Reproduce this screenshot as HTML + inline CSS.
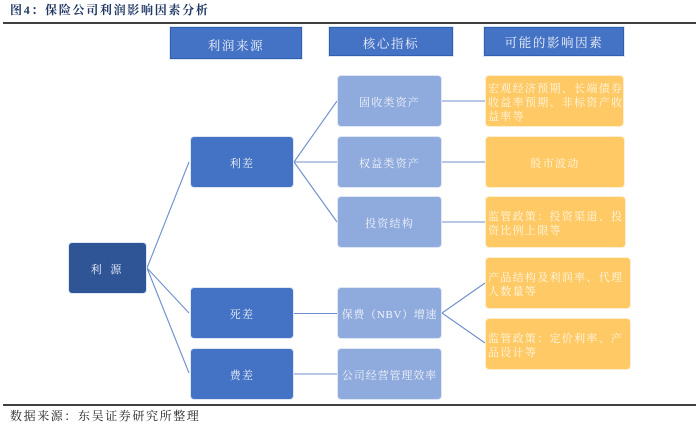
<!DOCTYPE html>
<html><head><meta charset="utf-8"><style>
html,body{margin:0;padding:0;background:#fff}
#c{position:relative;width:700px;height:429px;overflow:hidden;font-family:"Liberation Serif","Noto Serif CJK SC",serif}
.b{position:absolute;box-sizing:border-box;display:flex;align-items:center;justify-content:center;color:#f1f4fa;font-size:11px;letter-spacing:1.2px;text-align:center;line-height:14px;border-radius:4px;border:1px solid #dfe6f4;padding-top:3px;white-space:nowrap}
.h{background:#4472c4;border:1px solid #2f5fae;border-radius:0;font-size:12.5px;letter-spacing:1.6px;box-shadow:0 0 0 1px #dfe6f4}
.d{background:#2f5597}.m{background:#4472c4}.l{background:#8faadc}
.o{background:#ffca66;color:#fff6e4;border-color:#fdeed0;text-align:left;justify-content:flex-start;padding-left:2px;letter-spacing:1.3px}
.o.c{justify-content:center;padding-left:0}
.t{position:absolute;white-space:nowrap}
svg{position:absolute;left:0;top:0}
</style></head><body><div id="c">
<div class="t" style="left:10px;top:1px;font-size:12px;font-weight:bold;color:#1f3864;letter-spacing:1.7px;line-height:18px">图4：保险公司利润影响因素分析</div>
<div class="t" style="left:10px;top:407px;font-size:12px;color:#222;letter-spacing:1.6px;line-height:18px">数据来源：东吴证券研究所整理</div>
<svg width="700" height="429">
<g stroke="#000" stroke-width="1.5"><line x1="3" y1="23" x2="696" y2="23"/><line x1="3" y1="405" x2="696" y2="405"/></g>
<g stroke="#6f8fcb" stroke-width="1.1" fill="none">
<path d="M147 268L189 162M147 268L189 313M147 268L189 373"/>
<path d="M294 162L337 101M294 162H337M294 162L337 222M294 313.5H337M294 374H337"/>
<path d="M442 101H485M442 162H485M442 222H485M442 313L485 283M442 313L485 343"/>
</g></svg>
<div class="b h" style="left:170px;top:27px;width:132px;height:32px;padding-top:5px">利润来源</div>
<div class="b h" style="left:329px;top:27px;width:124px;height:29px;padding-top:4px">核心指标</div>
<div class="b h" style="left:484px;top:27px;width:140px;height:29px;padding-top:2px">可能的影响因素</div>
<div class="b d" style="left:68px;top:242px;width:79px;height:52px;letter-spacing:3px">利 源</div>
<div class="b m" style="left:190px;top:136px;width:104px;height:52px">利差</div>
<div class="b m" style="left:190px;top:287px;width:104px;height:52px">死差</div>
<div class="b m" style="left:190px;top:348px;width:104px;height:52px">费差</div>
<div class="b l" style="left:337px;top:75px;width:105px;height:52px">固收类资产</div>
<div class="b l" style="left:337px;top:136px;width:105px;height:52px">权益类资产</div>
<div class="b l" style="left:337px;top:196px;width:105px;height:52px">投资结构</div>
<div class="b l" style="left:337px;top:287px;width:105px;height:52px;letter-spacing:.7px">保费（NBV）增速</div>
<div class="b l" style="left:337px;top:348px;width:105px;height:52px;letter-spacing:.9px">公司经营管理效率</div>
<div class="b o" style="left:485px;top:75px;width:139px;height:52px">宏观经济预期、长端债券<br>收益率预期、非标资产收<br>益率等</div>
<div class="b o c" style="left:485px;top:136px;width:140px;height:52px">股市波动</div>
<div class="b o" style="left:485px;top:196px;width:141px;height:52px">监管政策：投资渠道、投<br>资比例上限等</div>
<div class="b o" style="left:485px;top:257px;width:146px;height:52px">产品结构及利润率、代理<br>人数量等</div>
<div class="b o" style="left:485px;top:318px;width:146px;height:52px">监管政策：定价利率、产<br>品设计等</div>
</div></body></html>
